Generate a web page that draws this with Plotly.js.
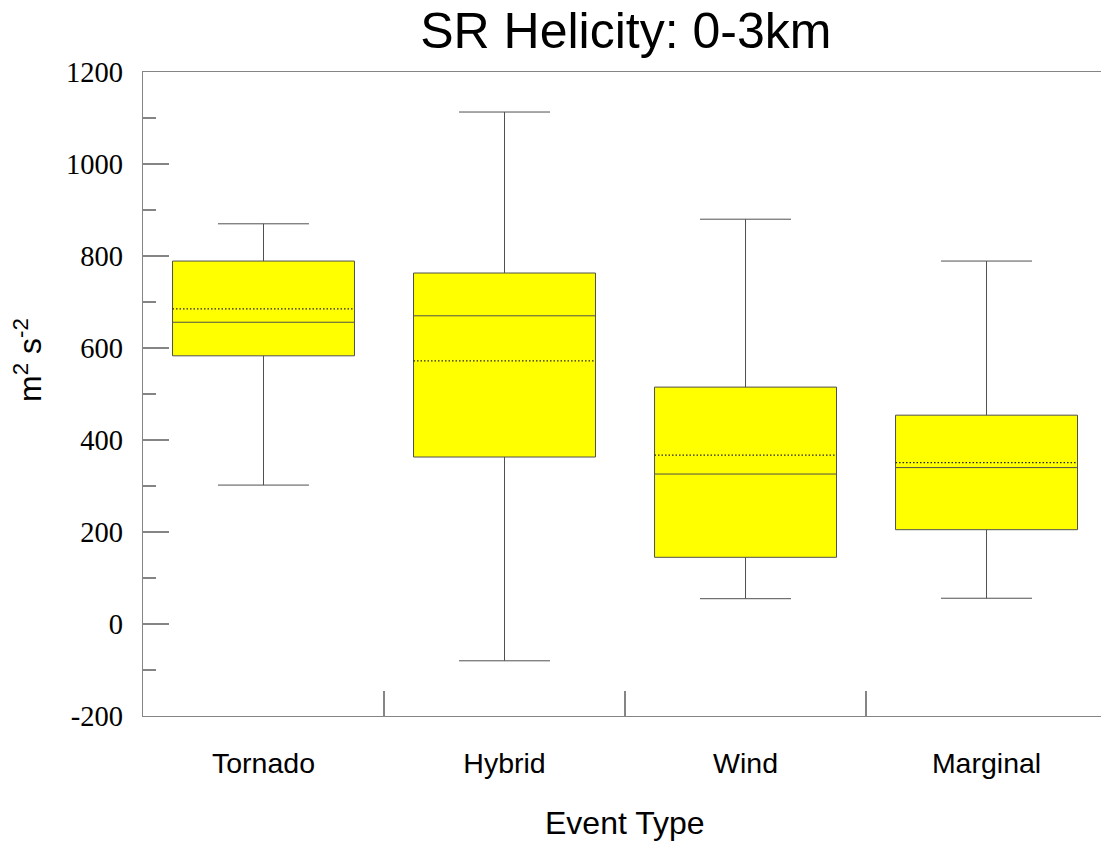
<!DOCTYPE html>
<html>
<head>
<meta charset="utf-8">
<script src="https://cdn.plot.ly/plotly-3.0.1.min.js"></script>
<style>html,body{margin:0;padding:0;background:#fff;}#chart{width:1101px;height:842px;}</style>
</head>
<body>
<div id="chart"></div>
<script>
// Data
const categories = ["Tornado", "Hybrid", "Wind", "Marginal"];
const lowerWhisker = [302, -80, 55, 56];
const q1Values = [583, 363, 145, 205];
const medianValues = [656, 670, 326, 340];
const meanValues = [685, 572, 367, 351];
const q3Values = [789, 763, 515, 454];
const upperWhisker = [870, 1113, 880, 789];
const yTickValues = [-200, 0, 200, 400, 600, 800, 1000, 1200];
const yTickLabels = ["-200", "0", "200", "400", "600", "800", "1000", "1200"];

const positions = categories.map((c, i) => i);
const boxWidth = 0.755;

const traces = [{
  type: "box",
  x: positions,
  q1: q1Values,
  median: medianValues,
  q3: q3Values,
  lowerfence: lowerWhisker,
  upperfence: upperWhisker,
  width: boxWidth,
  whiskerwidth: 0.5,
  boxpoints: false,
  fillcolor: "#ffff00",
  line: {color: "#505050", width: 1},
  hoverinfo: "skip",
  showlegend: false
}];

// dotted mean lines
categories.forEach((c, i) => {
  traces.push({
    type: "scatter",
    mode: "lines",
    x: [positions[i] - boxWidth / 2, positions[i] + boxWidth / 2],
    y: [meanValues[i], meanValues[i]],
    line: {color: "#222222", width: 1.2, dash: "1.5px,2px"},
    hoverinfo: "skip",
    showlegend: false
  });
});

// invisible trace on xaxis2 so category labels render
traces.push({
  type: "scatter", mode: "markers", x: positions, y: medianValues,
  xaxis: "x2", marker: {opacity: 0}, hoverinfo: "skip", showlegend: false
});

const xRange = [-0.5, 3.475];
const axisGray = "#858585";

const layout = {
  width: 1101,
  height: 842,
  margin: {l: 143, r: 0, t: 72, b: 126},
  paper_bgcolor: "#ffffff",
  plot_bgcolor: "#ffffff",
  title: {
    text: "SR Helicity: 0-3km",
    font: {family: "Liberation Sans, Arial, sans-serif", size: 50, color: "#000"},
    xref: "paper", x: 0.504, xanchor: "center",
    yref: "container", y: 1 - 30 / 842, yanchor: "middle"
  },
  xaxis: {
    range: xRange,
    showgrid: false,
    zeroline: false,
    showline: true,
    linecolor: axisGray,
    linewidth: 1.3,
    mirror: true,
    tickvals: [0.5, 1.5, 2.5],
    ticks: "inside",
    ticklen: 25,
    tickcolor: axisGray,
    tickwidth: 1.3,
    showticklabels: false
  },
  xaxis2: {
    range: xRange,
    overlaying: "x",
    side: "bottom",
    showgrid: false,
    zeroline: false,
    showline: false,
    tickvals: positions,
    ticktext: categories,
    ticks: "",
    ticklabelstandoff: 27,
    tickfont: {family: "Liberation Sans, Arial, sans-serif", size: 28.5, color: "#000"}
  },
  yaxis: {
    range: [-200, 1200],
    showgrid: false,
    zeroline: false,
    showline: true,
    linecolor: axisGray,
    linewidth: 1.3,
    tickvals: yTickValues,
    ticktext: yTickLabels,
    ticks: "inside",
    ticklen: 26,
    tickcolor: axisGray,
    tickwidth: 1.3,
    minor: {dtick: 100, ticks: "inside", ticklen: 13, tickcolor: axisGray, tickwidth: 1.3},
    ticklabelstandoff: 13,
    tickfont: {family: "Liberation Serif, Times New Roman, serif", size: 28.5, color: "#000"}
  },
  annotations: [
    {
      text: "m<sup>2</sup> s<sup>-2</sup>",
      textangle: -90,
      xref: "paper", yref: "paper",
      x: (28 - 143) / 958, y: (716 - 360) / 644,
      xanchor: "center", yanchor: "middle",
      showarrow: false,
      font: {family: "Liberation Sans, Arial, sans-serif", size: 32, color: "#000"}
    },
    {
      text: "Event Type",
      xref: "x", yref: "paper",
      x: 1.5, y: (716 - 823) / 644,
      xanchor: "center", yanchor: "middle",
      showarrow: false,
      font: {family: "Liberation Sans, Arial, sans-serif", size: 32, color: "#000"}
    }
  ]
};

Plotly.newPlot("chart", traces, layout, {displayModeBar: false, staticPlot: true});
</script>
</body>
</html>
